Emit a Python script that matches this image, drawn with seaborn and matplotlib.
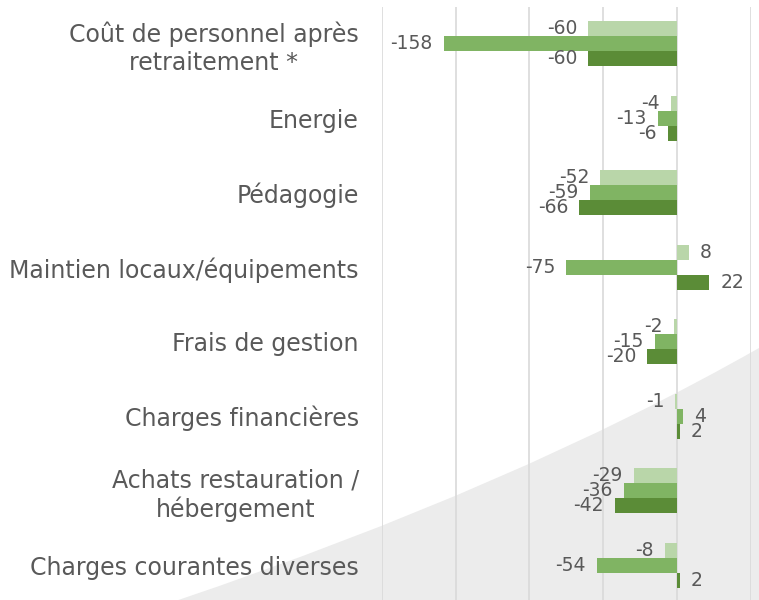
import numpy as np
import pandas as pd
import seaborn as sns
import matplotlib.pyplot as plt
from matplotlib.path import Path
from matplotlib.patches import PathPatch

categories = [
    "Coût de personnel après\nretraitement *",
    "Energie",
    "Pédagogie",
    "Maintien locaux/équipements",
    "Frais de gestion",
    "Charges financières",
    "Achats restauration /\nhébergement",
    "Charges courantes diverses",
]
series_names = ["Série 1", "Série 2", "Série 3"]
serie_1 = [-60, -4, -52, 8, -2, -1, -29, -8]
serie_2 = [-158, -13, -59, -75, -15, 4, -36, -54]
serie_3 = [-60, -6, -66, 22, -20, 2, -42, 2]
colors = ["#b9d6a9", "#80b463", "#5b8c37"]
text_color = "#595959"


def build_frame():
    rows = []
    for name, values in zip(series_names, [serie_1, serie_2, serie_3]):
        for cat, v in zip(categories, values):
            rows.append({"categorie": cat, "serie": name, "valeur": v})
    return pd.DataFrame(rows)


def draw_background(fig):
    # forme grise en bas à droite (décor de la diapo)
    verts = [(0.235, 0.0), (0.68, 0.19), (1.0, 0.42), (1.0, 0.0), (0.235, 0.0)]
    codes = [Path.MOVETO, Path.CURVE3, Path.CURVE3, Path.LINETO, Path.CLOSEPOLY]
    patch = PathPatch(Path(verts, codes), transform=fig.transFigure,
                      facecolor="#ececec", edgecolor="none", zorder=0)
    fig.patches.append(patch)


def main():
    data = build_frame()
    sns.set_theme(style="white")
    plt.rcParams["font.family"] = ["DejaVu Sans"]

    fig = plt.figure(figsize=(7.59, 6.0), dpi=100)
    draw_background(fig)
    ax = fig.add_axes([0.503, -0.004, 0.486, 0.993])
    ax.set_zorder(2)
    ax.patch.set_alpha(0)

    sns.barplot(data=data, y="categorie", x="valeur", hue="serie",
                palette=colors, orient="h", width=0.6, ax=ax,
                legend=False, saturation=1, errorbar=None, linewidth=0)

    ax.set_xlim(-200, 50)
    ax.set_xticks([-200, -150, -100, -50, 0, 50])
    ax.xaxis.grid(True, color="#d9d9d9", linewidth=1.2)
    ax.set_axisbelow(True)
    ax.tick_params(axis="x", bottom=False, labelbottom=False)
    ax.tick_params(axis="y", left=False, pad=10.5)
    for side in ["top", "right", "bottom", "left"]:
        ax.spines[side].set_visible(False)
    ax.set_xlabel("")
    ax.set_ylabel("")
    for lab in ax.get_yticklabels():
        lab.set_color(text_color)
        lab.set_fontsize(17)
        lab.set_multialignment("center")

    for container in ax.containers:
        ax.bar_label(container, fmt="%d", padding=8, color=text_color,
                     fontsize=13.5)

    fig.savefig("out.png", dpi=100)


if __name__ == "__main__":
    main()
